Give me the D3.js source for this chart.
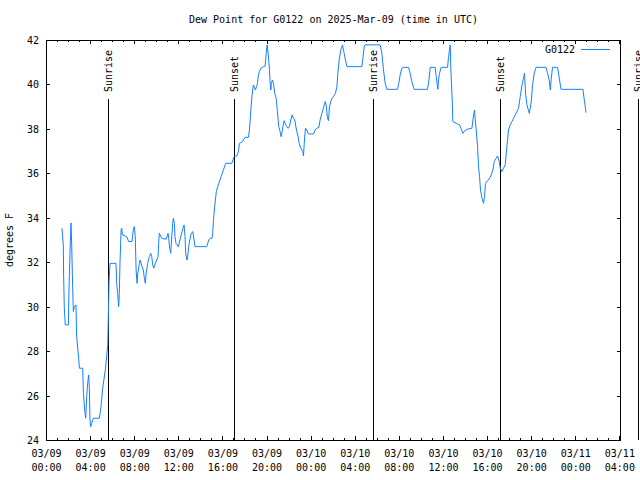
<!DOCTYPE html>
<html>
<head>
<meta charset="utf-8">
<script src="https://cdn.jsdelivr.net/npm/d3@7"></script>
<style>
  html, body { margin: 0; padding: 0; background: #fff; }
  svg { display: block; }
  text { font-family: "DejaVu Sans Mono", "Liberation Mono", monospace; font-size: 10px; fill: #000; }
</style>
</head>
<body>
<svg id="chart" width="640" height="480"></svg>
<script>
// ---------------- DATA ----------------
const titleText = "Dew Point for G0122 on 2025-Mar-09 (time in UTC)";
const yLabelText = "degrees F";
const seriesName = "G0122";
const startUTC = Date.UTC(2025, 2, 9, 0, 0);   // 03/09 00:00 UTC
const endHours = 52.15;                          // right edge of time axis (hours after start)

// hours after 03/09 00:00 UTC
const hoursSinceStart = [
  1.45,1.57,1.60,1.66,1.75,2.03,2.05,2.12,2.21,2.27,2.33,2.42,2.48,2.57,2.72,2.78,2.96,3.03,3.33,3.39,
  3.51,3.60,3.69,3.78,3.87,3.93,3.99,4.05,4.14,4.29,4.84,4.99,5.14,5.38,5.60,5.66,5.72,5.81,6.35,6.41,
  6.50,6.59,6.65,6.71,6.81,6.87,6.93,7.32,7.50,7.80,7.92,8.01,8.10,8.17,8.26,8.32,8.47,8.53,8.71,8.83,
  8.92,9.01,9.07,9.22,9.37,9.50,9.59,9.68,9.77,9.92,10.16,10.22,10.28,10.49,10.89,11.07,11.13,11.22,11.31,11.43,
  11.49,11.55,11.64,11.70,11.79,12.00,12.22,12.46,12.52,12.61,12.67,12.79,12.85,12.94,13.13,13.31,13.43,13.52,14.58,14.76,
  14.88,15.06,15.12,15.18,15.27,15.36,15.45,15.58,15.67,15.88,16.09,16.30,16.85,17.06,
  17.30,17.45,17.54,17.76,17.90,18.06,18.36,18.45,18.58,18.69,18.81,18.90,18.99,19.09,19.18,19.27,19.36,19.48,19.72,19.87,
  19.96,20.05,20.15,20.26,20.33,20.39,20.44,20.54,20.63,20.75,20.87,20.99,21.11,21.23,21.32,21.39,21.48,21.60,21.69,21.84,
  21.96,22.08,22.20,22.32,22.44,22.57,22.66,22.75,22.87,22.96,23.11,23.29,23.35,23.44,23.53,23.66,23.80,24.26,24.41,24.56,
  24.75,24.86,25.02,25.16,25.32,25.41,25.53,25.62,25.71,25.83,25.95,26.07,26.25,26.38,26.47,26.59,26.74,26.89,27.01,27.16,
  27.29,28.65,28.74,28.86,28.92,30.31,30.46,30.61,30.76,30.92,31.88,32.00,32.12,32.28,32.42,32.88,33.03,33.18,33.39,34.60,
  34.73,34.85,35.30,35.39,35.54,35.60,35.69,35.84,36.42,36.51,36.60,36.66,36.72,36.84,36.90,37.20,37.50,37.63,37.81,37.93,
  38.18,38.63,38.78,38.87,38.93,39.02,39.14,39.23,39.32,39.41,39.54,39.68,39.77,39.86,40.05,40.23,40.38,40.53,40.65,40.83,
  40.95,41.08,41.20,41.35,41.50,41.65,41.80,41.95,42.10,42.26,42.41,42.56,42.71,42.86,43.01,43.17,43.31,43.40,43.49,43.62,
  43.83,43.92,44.01,44.13,44.28,44.44,45.35,45.49,45.64,45.74,45.83,45.94,46.40,46.55,46.71,48.70,48.82,48.91,48.97
];
const dewPointF = [
  33.53,32.78,31.35,29.93,29.18,29.18,29.93,31.40,32.96,33.77,32.78,30.83,29.78,30.00,30.08,28.65,27.68,27.23,27.23,26.13,
  25.35,24.98,25.95,26.55,26.93,26.33,24.90,24.60,24.75,24.98,24.98,25.50,26.33,27.15,28.28,29.70,31.20,31.95,31.95,31.05,
  30.60,30.00,30.60,31.95,33.45,33.53,33.23,33.15,32.93,32.93,33.45,33.60,33.15,31.65,31.05,31.50,31.95,32.10,31.80,31.65,
  31.28,31.05,31.43,31.95,32.25,32.40,32.25,31.88,31.73,31.95,32.25,32.85,33.30,33.08,33.03,33.30,33.08,32.63,32.40,33.30,
  33.75,33.98,33.75,33.15,32.85,32.70,33.15,33.60,33.68,33.15,32.40,32.10,32.25,32.70,33.23,33.38,33.00,32.70,32.70,33.00,
  33.08,33.08,33.30,33.83,34.35,34.80,35.18,35.40,35.55,35.85,36.15,36.45,36.45,36.75,
  36.78,36.98,37.35,37.40,37.50,37.62,37.62,37.95,38.85,39.53,39.98,39.87,39.75,39.90,40.05,40.43,40.58,40.73,40.80,40.83,
  41.33,41.78,41.40,40.73,40.05,39.75,40.05,40.20,40.05,39.60,39.38,38.78,38.10,37.88,37.65,37.80,38.10,38.37,38.25,38.10,
  38.03,38.10,38.40,38.63,38.48,38.40,38.10,37.88,37.65,37.35,37.13,36.98,36.78,37.50,38.03,37.95,37.77,37.77,37.95,38.03,
  38.07,38.40,38.70,38.93,39.23,39.08,38.48,38.37,39.00,39.23,39.38,39.45,39.60,39.90,40.50,41.10,41.55,41.78,41.48,41.10,
  40.80,40.80,41.18,41.70,41.78,41.78,41.40,40.65,40.05,39.78,39.78,40.05,40.43,40.73,40.77,40.77,40.50,40.13,39.78,39.78,
  40.20,40.77,40.77,40.35,39.78,40.20,40.50,40.77,40.77,41.25,41.55,41.78,40.65,39.30,38.33,38.25,38.18,38.03,37.80,37.88,
  37.98,38.03,38.63,38.85,38.40,37.95,37.20,36.30,35.85,35.25,34.88,34.65,34.95,35.55,35.67,35.78,35.93,36.15,36.53,36.68,
  36.78,36.60,36.23,36.08,36.23,36.38,37.20,37.95,38.18,38.33,38.48,38.63,38.78,38.93,39.45,39.98,40.28,40.50,39.60,39.08,
  38.70,38.93,39.23,39.98,40.50,40.77,40.77,40.50,40.20,39.75,40.28,40.77,40.77,40.28,39.78,39.78,39.30,39.00,38.73
];

// Sunrise / sunset markers (hours after start)
const sunLabels = ["Sunrise", "Sunset", "Sunrise", "Sunset", "Sunrise"];
const sunHours  = [5.65, 17.04, 29.67, 41.16, 53.70];

// Axis ticks
const yTicks = [24, 26, 28, 30, 32, 34, 36, 38, 40, 42];
const yDomain = [24, 42];

// ---------------- CHART ----------------
const W = 640, H = 480;
const margin = { top: 40, right: 19, bottom: 40, left: 46 };
const svg = d3.select("#chart");
const toDate = h => new Date(startUTC + h * 3600e3);

const x = d3.scaleUtc()
  .domain([toDate(0), toDate(endHours)])
  .range([margin.left, W - margin.right]);
const y = d3.scaleLinear()
  .domain(yDomain)
  .range([H - margin.bottom, margin.top]);

const x0 = margin.left, x1 = W - margin.right, y0 = margin.top, y1 = H - margin.bottom;

// Title
svg.append("text")
  .attr("x", (x0 + x1) / 2).attr("y", 19)
  .attr("text-anchor", "middle").attr("dominant-baseline", "central")
  .text(titleText);

// Y label
svg.append("text")
  .attr("transform", `translate(9,${(y0 + y1) / 2}) rotate(-90)`)
  .attr("text-anchor", "middle").attr("dominant-baseline", "central")
  .text(yLabelText);

function styleAxis(g) {
  g.select(".domain").remove();
  g.attr("font-family", null).attr("font-size", null);
  g.selectAll(".tick line").attr("stroke", "#000").attr("shape-rendering", "crispEdges");
}

// Bottom minor ticks
svg.append("g").attr("transform", `translate(0,${y1})`)
  .call(d3.axisBottom(x).ticks(d3.utcHour.every(1)).tickSize(-2).tickFormat(""))
  .call(styleAxis);
// Top minor ticks
svg.append("g").attr("transform", `translate(0,${y0})`)
  .call(d3.axisTop(x).ticks(d3.utcHour.every(1)).tickSize(-2).tickFormat(""))
  .call(styleAxis);
// Top major ticks
svg.append("g").attr("transform", `translate(0,${y0})`)
  .call(d3.axisTop(x).ticks(d3.utcHour.every(4)).tickSize(-4).tickFormat(""))
  .call(styleAxis);
// Bottom major ticks with two-line labels
const fmtDay = d3.utcFormat("%m/%d"), fmtTime = d3.utcFormat("%H:%M");
const xAxisG = svg.append("g").attr("transform", `translate(0,${y1})`)
  .call(d3.axisBottom(x).ticks(d3.utcHour.every(4)).tickSize(-4).tickFormat(""))
  .call(styleAxis);
xAxisG.selectAll(".tick text").each(function(d) {
  const t = d3.select(this).attr("y", null).attr("dy", null);
  t.append("tspan").attr("x", 0).attr("y", 13).attr("dominant-baseline", "central").text(fmtDay(d));
  t.append("tspan").attr("x", 0).attr("y", 27).attr("dominant-baseline", "central").text(fmtTime(d));
});

// Left axis
svg.append("g").attr("transform", `translate(${x0},0)`)
  .call(d3.axisLeft(y).tickValues(yTicks).tickSize(-4).tickPadding(7).tickFormat(d3.format("d")))
  .call(styleAxis)
  .selectAll(".tick text").attr("dy", null).attr("dominant-baseline", "central");
// Right axis mirror
svg.append("g").attr("transform", `translate(${x1},0)`)
  .call(d3.axisRight(y).tickValues(yTicks).tickSize(-4).tickFormat(""))
  .call(styleAxis);

// Frame
svg.append("rect")
  .attr("x", x0 + 0.5).attr("y", y0 + 0.5)
  .attr("width", x1 - x0 - 1).attr("height", y1 - y0)
  .attr("fill", "none").attr("stroke", "#000").attr("shape-rendering", "crispEdges");

// Sunrise / sunset
const sun = svg.append("g");
sunHours.forEach((h, i) => {
  const sx = Math.round(x(toDate(h))) + 0.5;
  sun.append("line")
    .attr("x1", sx).attr("x2", sx).attr("y1", 99).attr("y2", y1)
    .attr("stroke", "#000").attr("shape-rendering", "crispEdges");
  sun.append("text")
    .attr("transform", `translate(${sx},92) rotate(-90)`)
    .attr("text-anchor", "start").attr("dominant-baseline", "central")
    .text(sunLabels[i]);
});

// Data line
const pts = hoursSinceStart.map((h, i) => [toDate(h), dewPointF[i]]);
svg.append("path")
  .datum(pts)
  .attr("fill", "none")
  .attr("stroke", "#1580ff")
  .attr("stroke-width", 1)
  .attr("d", d3.line().x(d => x(d[0])).y(d => y(d[1])));

// Legend
svg.append("text")
  .attr("x", 575).attr("y", 49)
  .attr("text-anchor", "end").attr("dominant-baseline", "central")
  .text(seriesName);
svg.append("line")
  .attr("x1", 581).attr("x2", 610).attr("y1", 49.5).attr("y2", 49.5)
  .attr("stroke", "#1580ff").attr("stroke-width", 1);
</script>
</body>
</html>
